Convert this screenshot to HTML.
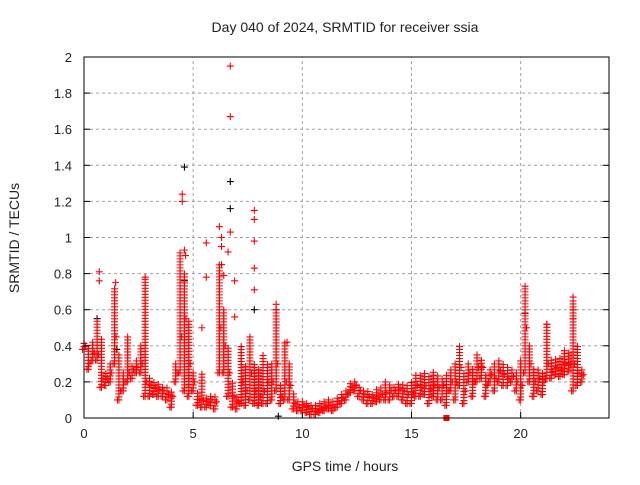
<!DOCTYPE html>
<html><head><meta charset="utf-8"><style>
body{margin:0;background:#fff}
svg text{font-family:"Liberation Sans",sans-serif;fill:#222}
</style></head><body>
<svg id="chart" width="640" height="480" viewBox="0 0 640 480" xmlns="http://www.w3.org/2000/svg">
<rect x="0" y="0" width="640" height="480" fill="#fff"/>
<text x="345" y="32" font-size="14" text-anchor="middle">Day 040 of 2024, SRMTID for receiver ssia</text>
<text x="0" y="0" font-size="14" text-anchor="middle" transform="translate(19,238) rotate(-90)">SRMTID / TECUs</text>
<text x="345" y="471" font-size="14" text-anchor="middle">GPS time / hours</text>
<g id="grid"></g>
<g id="marks"></g>
<rect x="84" y="57" width="525" height="361" fill="none" stroke="#000" stroke-width="1"/>
<g id="ticks"></g>
</svg>
<script>
const xTicks=[0,5,10,15,20];
const yTicks=[0,0.2,0.4,0.6,0.8,1,1.2,1.4,1.6,1.8,2];
const yTickLabels=["0","0.2","0.4","0.6","0.8","1","1.2","1.4","1.6","1.8","2"];
const times=[0.0,0.2,0.4,0.6,0.8,1.0,1.2,1.4,1.6,1.8,2.0,2.2,2.4,2.6,2.8,3.0,3.2,3.4,3.6,3.8,4.0,4.2,4.4,4.6,4.8,5.0,5.2,5.4,5.6,5.8,6.0,6.2,6.4,6.6,6.8,7.0,7.2,7.4,7.6,7.8,8.0,8.2,8.4,8.6,8.8,9.0,9.2,9.4,9.6,9.8,10.0,10.2,10.4,10.6,10.8,11.0,11.2,11.4,11.6,11.8,12.0,12.2,12.4,12.6,12.8,13.0,13.2,13.4,13.6,13.8,14.0,14.2,14.4,14.6,14.8,15.0,15.2,15.4,15.6,15.8,16.0,16.2,16.4,16.6,16.8,17.0,17.2,17.4,17.6,17.8,18.0,18.2,18.4,18.6,18.8,19.0,19.2,19.4,19.6,19.8,20.0,20.2,20.4,20.6,20.8,21.0,21.2,21.4,21.6,21.8,22.0,22.2,22.4,22.6,22.8];
const lowValues=[.38,.27,.32,.32,.17,.18,.20,.30,.10,.15,.20,.22,.25,.25,.12,.12,.13,.12,.12,.10,.06,.20,.25,.15,.12,.15,.07,.06,.06,.07,.05,.25,.25,.12,.06,.05,.08,.07,.10,.08,.07,.08,.08,.10,.15,.08,.10,.10,.05,.04,.04,.03,.02,.02,.03,.04,.05,.04,.06,.08,.10,.14,.15,.12,.10,.08,.08,.09,.10,.10,.10,.12,.12,.10,.08,.08,.12,.12,.13,.08,.12,.10,.10,.07,.15,.10,.18,.08,.20,.12,.20,.22,.12,.20,.15,.20,.18,.18,.20,.15,.10,.25,.20,.12,.15,.13,.22,.22,.24,.23,.24,.26,.15,.18,.20];
const midValues=[.40,.30,.36,.35,.22,.22,.25,.45,.15,.20,.25,.27,.28,.30,.20,.18,.17,.16,.15,.13,.12,.25,.45,.55,.30,.20,.10,.10,.09,.10,.09,.50,.40,.25,.12,.09,.20,.15,.25,.15,.12,.15,.20,.20,.30,.12,.20,.18,.08,.06,.07,.06,.05,.04,.05,.06,.07,.06,.09,.11,.13,.17,.18,.15,.13,.12,.11,.12,.13,.14,.15,.15,.16,.15,.13,.14,.18,.17,.18,.16,.18,.17,.18,.15,.20,.20,.28,.15,.25,.20,.28,.28,.18,.24,.22,.26,.24,.22,.23,.20,.18,.50,.30,.20,.22,.20,.30,.26,.28,.27,.30,.30,.30,.25,.24];
const highValues=[.42,.40,.42,.55,.45,.25,.30,.72,.35,.25,.45,.30,.32,.40,.77,.22,.21,.19,.18,.17,.15,.30,.93,.80,.55,.25,.15,.25,.12,.12,.12,.85,.60,.40,.20,.12,.40,.30,.45,.30,.28,.35,.30,.30,.60,.18,.42,.30,.14,.10,.09,.08,.08,.07,.08,.09,.10,.09,.12,.14,.16,.20,.20,.18,.16,.15,.14,.16,.17,.20,.19,.18,.20,.19,.18,.20,.25,.24,.26,.24,.26,.24,.22,.25,.28,.30,.40,.25,.30,.28,.36,.33,.24,.28,.30,.33,.30,.28,.27,.26,.32,.72,.40,.27,.28,.26,.52,.32,.33,.33,.38,.36,.66,.40,.28];
const spikeTimes=[0.7,0.7,1.45,2.8,4.5,4.5,4.6,4.65,5.6,5.6,5.4,6.2,6.3,6.3,6.3,6.4,6.7,6.7,6.7,6.6,6.9,6.9,7.8,7.8,7.8,7.8,7.8,8.8,8.8,9.3,22.4,22.4,22.4,20.2,21.2];
const spikeValues=[.81,.76,.75,.78,1.24,1.20,.93,.90,.97,.78,.50,1.06,1.00,.95,.85,.79,1.95,1.67,1.03,.92,.76,.56,1.15,1.10,.98,.83,.71,.63,.60,.42,.67,.60,.55,.73,.52];
const blackTimes=[4.6,6.7,6.7,7.8,0.6,4.6,8.9,1.5,20.2];
const blackValues=[1.39,1.31,1.16,.60,.55,.76,.01,.38,.58];
const squareTimes=[16.6];
const squareValues=[0];

const X0=84,X1=608,Y0=418,Y1=57;
function xs(t){return X0+(t/24)*(X1-X0);}
function ys(v){return Y0-(v/2)*(Y0-Y1);}
const NS="http://www.w3.org/2000/svg";
const grid=document.getElementById('grid'),ticks=document.getElementById('ticks'),marks=document.getElementById('marks');
function mk(tag,attrs,parent){const e=document.createElementNS(NS,tag);for(const k in attrs)e.setAttribute(k,attrs[k]);parent.appendChild(e);return e;}
xTicks.forEach(t=>{
  const x=xs(t);
  if(t>0){const g=mk('line',{x1:x,y1:Y0,x2:x,y2:Y1,stroke:'#a0a0a0','stroke-dasharray':'3,3'},grid);
  
  }
  const l=mk('line',{x1:x,y1:Y0,x2:x,y2:Y0-6,stroke:'#000'},ticks);
  
  
  const tx=mk('text',{x:x,y:Y0+20,'font-size':'13','text-anchor':'middle'},ticks);tx.textContent=String(t);
  
  
});
yTicks.forEach((v,i)=>{
  const y=ys(v);
  if(v>0&&v<2){const g=mk('line',{x1:X0,y1:y,x2:609,y2:y,stroke:'#a0a0a0','stroke-dasharray':'3,3'},grid);
  
  }
  const l=mk('line',{x1:X0,y1:y,x2:X0+6,y2:y,stroke:'#000'},ticks);
  
  
  const l2=mk('line',{x1:609,y1:y,x2:603,y2:y,stroke:'#000'},ticks);
  
  
  const tx=mk('text',{x:X0-12,y:y+5,'font-size':'13','text-anchor':'end'},ticks);tx.textContent=yTickLabels[i];
  
  
});
function plus(x,y,color,name){
  const p=mk('path',{d:`M${x-3.5},${y}H${x+3.5}M${x},${y-3.5}V${y+3.5}`,stroke:color,'stroke-width':'1.1',fill:'none'},marks);
  
  
}
blackTimes.forEach((t,i)=>plus(xs(t),ys(blackValues[i]),'#000','black-point'));
times.forEach((t,i)=>{
  const x=xs(t);
  const yLo=ys(lowValues[i]),yHi=ys(highValues[i]);
  // column of markers spanning the scatter at this time
  for(let y=yLo;y>=yHi-0.01;y-=3){
    plus(x,y,'#ff0000','srmtid-point');
  }
  plus(x+1.5,ys(midValues[i]),'#ff0000','srmtid-point');
  plus(x-1.5,yLo,'#ff0000','srmtid-point');
});
spikeTimes.forEach((t,i)=>plus(xs(t),ys(spikeValues[i]),'#ff0000','srmtid-spike'));
squareTimes.forEach((t,i)=>{
  const s=mk('rect',{x:xs(t)-3,y:ys(squareValues[i])-3,width:6,height:6,fill:'#ff0000'},marks);
  
  
});
</script>
</body></html>
